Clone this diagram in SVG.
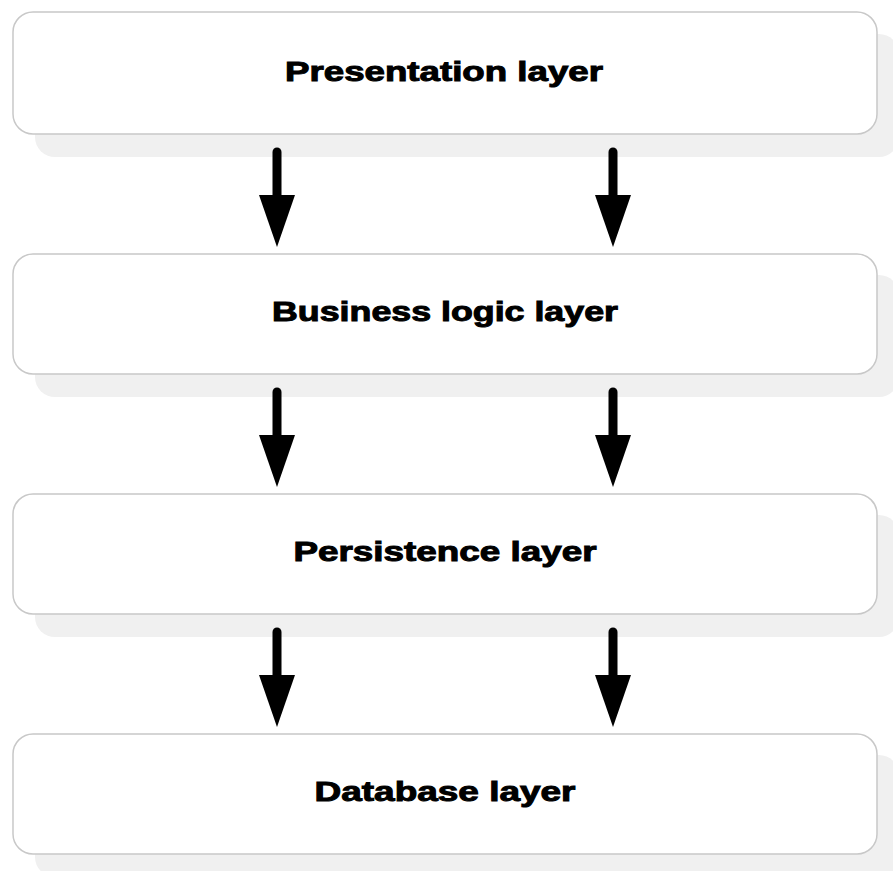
<svg xmlns="http://www.w3.org/2000/svg" width="893" height="871" viewBox="0 0 893 871">
<style>
.shadow{fill:#f0f0f0;}
.box{fill:#ffffff;stroke:#c8c8c8;stroke-width:1.5;}
.label{font-family:"Liberation Sans",Arial,sans-serif;font-weight:bold;font-size:28px;fill:#000;stroke:#000;stroke-width:1;text-anchor:middle;}
.shaft{stroke:#000;stroke-width:9;stroke-linecap:round;fill:none;}
.head{fill:#000;}
</style>
<defs>
<g id="arrow">
<line class="shaft" x1="0" y1="152" x2="0" y2="200"/>
<polygon class="head" points="-18,195 18,195 0,247"/>
</g>
</defs>
<rect width="893" height="871" fill="#ffffff"/>
<g id="presentation">
<rect class="shadow" x="35" y="34" width="864" height="123" rx="20"/>
<rect class="box" x="13" y="12" width="864" height="122" rx="20"/>
<text class="label" x="444" y="81" textLength="318" lengthAdjust="spacingAndGlyphs">Presentation layer</text>
</g>
<g id="business">
<rect class="shadow" x="35" y="275" width="864" height="122" rx="20"/>
<rect class="box" x="13" y="254" width="864" height="120" rx="20"/>
<text class="label" x="445" y="321" textLength="346" lengthAdjust="spacingAndGlyphs">Business logic layer</text>
</g>
<g id="persistence">
<rect class="shadow" x="35" y="515" width="864" height="122" rx="20"/>
<rect class="box" x="13" y="494" width="864" height="120" rx="20"/>
<text class="label" x="445" y="561" textLength="303" lengthAdjust="spacingAndGlyphs">Persistence layer</text>
</g>
<g id="database">
<rect class="shadow" x="35" y="755" width="864" height="122" rx="20"/>
<rect class="box" x="13" y="734" width="864" height="120" rx="20"/>
<text class="label" x="445" y="801" textLength="261" lengthAdjust="spacingAndGlyphs">Database layer</text>
</g>
<g id="connectors">
<use href="#arrow" x="277" y="0"/>
<use href="#arrow" x="613" y="0"/>
<use href="#arrow" x="277" y="240"/>
<use href="#arrow" x="613" y="240"/>
<use href="#arrow" x="277" y="480"/>
<use href="#arrow" x="613" y="480"/>
</g>
</svg>
